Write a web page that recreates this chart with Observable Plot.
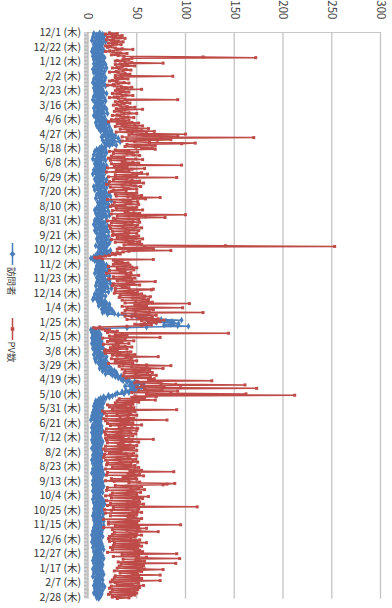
<!DOCTYPE html>
<html><head><meta charset="utf-8">
<script src="https://cdn.jsdelivr.net/npm/d3@7"></script>
<script src="https://cdn.jsdelivr.net/npm/@observablehq/plot@0.6"></script>
<style>
body{margin:0;background:#fff;}
#wrap{position:relative;width:392px;height:608px;overflow:hidden;}
#legend{position:absolute;left:19px;top:243px;transform-origin:0 0;transform:rotate(90deg);display:flex;align-items:center;height:13px;font:9.5px "Noto Sans CJK JP",sans-serif;color:#444;white-space:nowrap;}
#legend svg{display:block}
</style></head><body><div id="wrap"></div>
<script>
// ---- data (daily, starting 2016-12-01) ----
const startDate = "2016-12-01";
const seriesNames = ["訪問者", "PV数"];
const seriesColors = ["#4A7EBB", "#BE4B48"];
const xTickValues = [0, 50, 100, 150, 200, 250, 300];
const yTickLabels = ["12/1","12/22","1/12","2/2","2/23","3/16","4/6","4/27","5/18","6/8","6/29","7/20","8/10","8/31","9/21","10/12","11/2","11/23","12/14","1/4","1/25","2/15","3/8","3/29","4/19","5/10","5/31","6/21","7/12","8/2","8/23","9/13","10/4","10/25","11/15","12/6","12/27","1/17","2/7","2/28"];
const weekdayLabel = "(木)";

const visitors = [
12,6,15,9,17,11,5,14,8,16,10,4,13,18,7,12,15,6,11,9,14,
8,13,5,10,16,7,4,11,14,6,12,9,15,5,10,17,8,13,6,11,14,
16,9,13,6,18,11,7,15,10,19,12,5,14,8,17,11,6,13,16,9,12,
15,8,18,11,6,13,17,9,14,5,10,16,7,12,18,9,13,6,11,15,8,
13,7,16,10,19,8,12,15,6,14,9,17,11,5,13,18,10,7,15,12,9,
14,8,17,11,6,15,19,10,13,7,16,12,20,9,14,6,11,17,8,15,12,
17,10,19,13,8,16,21,12,18,9,15,22,14,11,19,16,24,13,20,17,23,
25,16,28,20,14,26,31,19,24,15,27,33,21,17,25,19,29,22,14,18,12,
16,9,18,12,7,15,19,10,14,6,13,17,9,15,11,5,14,18,8,12,10,
13,7,16,10,19,8,14,17,9,12,6,15,11,18,8,13,5,12,16,9,14,
11,16,7,19,13,8,15,10,18,21,12,9,16,6,14,19,10,13,7,17,12,
18,11,21,14,9,17,23,12,19,8,15,20,13,24,16,10,18,13,21,11,15,
14,20,9,17,12,7,16,21,11,15,8,18,13,22,10,15,19,9,14,11,7,
12,18,9,16,11,6,15,20,13,8,17,10,19,12,7,16,21,14,9,13,17,
15,21,11,18,13,9,19,23,14,10,17,22,12,16,20,8,14,19,11,17,13,
18,23,13,19,10,16,21,12,8,14,6,11,3,5,9,13,7,15,10,12,16,
13,19,9,16,11,21,14,8,17,12,20,10,15,7,13,18,11,22,14,9,16,
17,11,22,14,19,9,16,23,12,18,8,15,20,13,24,11,17,9,15,21,13,
12,7,15,10,18,13,6,14,9,5,12,17,10,15,19,13,22,16,11,18,21,
16,23,14,19,25,17,21,15,27,20,31,38,45,50,57,65,60,75,96,80,86,
70,88,93,85,78,92,103,60,40,12,5,3,8,6,11,4,9,7,13,5,10,
6,11,4,13,8,5,10,14,7,12,4,9,15,6,11,8,13,5,16,10,7,
12,8,17,10,14,6,15,11,19,9,13,7,18,12,16,8,14,20,11,17,13,
19,14,22,16,12,24,18,27,15,21,29,23,18,30,25,34,28,36,31,40,34,
42,36,48,40,52,45,57,43,50,38,55,47,58,44,51,39,48,35,42,30,37,
28,21,25,16,22,13,18,11,15,8,13,10,16,7,12,9,14,6,11,15,8,
11,6,14,8,12,5,10,15,7,9,4,12,8,14,6,10,3,9,13,7,11,
8,12,5,10,14,7,4,9,12,6,11,15,7,4,9,13,6,10,5,12,8,
13,7,10,4,12,15,8,5,11,14,7,10,6,13,9,4,11,8,14,6,10,
9,14,7,12,5,10,15,8,13,6,11,4,9,14,8,12,5,10,13,7,11,
14,8,12,5,10,15,7,13,9,4,11,16,8,12,6,10,14,7,12,9,5,
10,15,7,13,9,5,12,16,8,11,6,14,9,13,5,10,15,7,12,8,11,
6,12,8,14,10,5,13,16,9,11,6,14,17,8,12,7,15,10,13,6,11,
14,9,13,6,11,16,8,12,5,10,15,7,13,9,6,12,16,10,8,13,7,
12,16,9,13,6,11,15,8,12,5,10,14,7,13,9,4,11,15,8,12,6,
5,10,13,7,4,11,14,8,6,12,15,9,5,10,13,16,8,11,6,13,9,
7,12,9,15,10,6,13,16,8,12,5,10,14,9,6,13,15,10,7,12,14,
9,5,11,13,8,15,10,6,14,16,9,12,5,11,14,8,13,15,10,7,11,
12,8,15,10,6,13,17,9,12,7,11,15,8,13,10,6,14,11,8,13,10,
12,9,11
];

const pageviews = [
22,30,18,25,35,28,20,33,38,26,19,24,31,36,27,21,29,34,25,18,23,
20,28,35,46,30,22,18,26,33,40,29,24,31,37,118,172,45,36,42,30,28,
38,45,77,33,28,40,48,35,30,25,32,39,44,36,29,22,31,38,43,34,28,
87,35,28,33,41,30,25,22,29,37,42,31,26,20,27,34,45,38,30,55,32,
28,36,42,33,25,30,39,46,35,27,22,31,38,92,40,33,28,35,43,37,30,
26,33,40,48,35,29,56,38,31,27,34,42,50,37,30,25,33,41,47,36,29,
24,42,38,21,45,52,30,35,48,56,28,38,50,62,33,41,55,68,29,45,60,
100,42,58,92,35,170,75,40,85,71,35,48,63,110,96,40,52,69,38,49,66,
55,69,28,42,22,51,45,26,40,47,53,24,37,33,21,49,56,23,38,35,46,
52,24,38,96,27,40,35,20,58,45,29,33,42,19,55,46,61,28,44,50,21,
91,28,40,26,45,53,22,38,57,44,19,35,48,54,23,37,41,50,26,39,24,
22,50,45,28,47,55,29,41,74,46,59,20,36,43,51,27,39,44,52,25,38,
23,50,46,29,48,56,25,41,38,47,53,24,100,52,30,59,79,26,42,52,28,
20,46,53,24,38,45,51,22,36,49,55,23,39,47,52,25,38,42,50,26,41,
25,52,47,30,49,56,24,39,46,53,28,42,51,55,37,141,253,58,32,67,30,
48,85,42,36,30,25,33,28,22,18,12,7,9,15,67,26,32,28,35,41,30,
26,43,38,21,45,50,30,35,47,22,38,33,44,19,39,44,52,40,26,43,48,
21,37,45,30,69,44,40,26,47,53,25,39,35,42,28,67,65,43,28,46,51,
27,55,50,33,58,64,32,46,57,62,35,49,60,66,38,104,53,48,60,35,56,
97,40,52,67,38,49,63,118,35,48,62,70,38,45,66,52,72,40,78,55,74,
62,70,58,48,65,55,40,12,6,8,15,22,18,30,25,20,144,35,28,40,22,
30,74,15,38,23,27,47,20,35,29,42,16,31,26,38,45,23,28,40,18,30,
17,44,32,18,41,48,25,30,72,39,45,24,29,43,50,28,33,46,21,36,60,
85,32,45,60,77,35,48,63,38,50,66,37,49,61,70,36,52,64,39,68,62,
65,127,50,72,48,75,90,161,55,78,50,95,173,58,76,52,92,61,45,85,162,
60,212,48,70,45,58,32,55,69,30,45,52,28,42,46,20,44,38,22,47,41,
25,91,40,15,48,42,17,30,44,50,19,33,41,47,16,31,81,18,34,42,46,
20,35,55,23,38,32,45,51,19,34,50,42,17,30,44,49,18,33,46,21,36,
18,42,67,19,34,45,52,20,36,31,43,50,18,33,47,41,16,44,50,18,34,
22,47,39,17,45,50,41,16,30,43,49,18,33,46,51,20,35,44,19,48,42,
25,52,40,18,48,55,43,88,20,47,41,53,19,57,40,36,49,24,50,42,18,
27,53,42,89,81,77,28,40,55,20,52,44,58,19,41,47,54,25,39,50,23,
18,62,50,24,56,47,52,19,41,53,48,23,57,49,20,51,112,26,40,52,17,
24,51,46,55,18,42,50,45,23,47,41,49,55,16,40,52,47,21,50,45,21,
95,28,44,52,16,60,51,25,40,53,72,27,43,50,25,55,49,22,48,44,21,
26,53,48,22,50,60,27,44,52,26,55,49,23,51,47,25,53,48,56,20,44,
91,35,48,52,26,60,50,94,36,49,53,58,31,47,90,34,49,57,32,48,55,
30,58,77,52,27,55,49,33,46,51,74,28,44,52,27,55,50,25,74,49,23,
28,52,45,30,57,24,49,53,22,47,51,25,39,48,23,50,46,21,48,44,25,
25,42,30
];

// ---- build ----
const t0 = new Date(startDate + "T00:00:00Z");
const day = (i) => new Date(t0.getTime() + i * 86400000);
const visRows = visitors.map((v, i) => ({date: day(i), value: v, series: seriesNames[0]}));
const pvRows = pageviews.map((v, i) => ({date: day(i), value: v, series: seriesNames[1]}));
const tickRows = yTickLabels.map((lab, i) => ({date: day(21 * i), text: `${lab} ${weekdayLabel}`}));
const minorTicks = d3.range(0, 822, 2).map(day);
const y0 = day(-0.5), y1 = day(822);
const font = '"Noto Sans CJK JP", "Noto Sans", sans-serif';

const chart = Plot.plot({
  width: 392, height: 608,
  marginLeft: 87.5, marginRight: 12, marginTop: 32, marginBottom: 9.3,
  style: {background: "#fff", fontFamily: font},
  x: {domain: [0, 300], axis: null},
  y: {type: "utc", domain: [y0, y1], reverse: true, axis: null},
  marks: [
    Plot.ruleX(xTickValues.filter(d => d > 0), {stroke: "#c4c4c4", strokeWidth: 1.3}),
    Plot.ruleY([y0], {x1: 0, x2: 300, stroke: "#c8c8c8"}),
    Plot.ruleY(minorTicks, {x1: -3.6, x2: 0, stroke: "#a0a0a0", strokeWidth: 0.8}),
    Plot.ruleX([0], {stroke: "#a0a0a0"}),
    Plot.line(visRows, {x: "value", y: "date", stroke: seriesColors[0], strokeWidth: 1.5}),
    Plot.dot(visRows, {x: "value", y: "date", symbol: "diamond", r: 2.1, fill: seriesColors[0], stroke: "none"}),
    Plot.line(pvRows, {x: "value", y: "date", stroke: seriesColors[1], strokeWidth: 1.5}),
    Plot.dot(pvRows, {x: "value", y: "date", symbol: "square", r: 1.7, fill: seriesColors[1], stroke: "none"}),
    Plot.text(tickRows, {x: () => 0, y: "date", text: "text", textAnchor: "end", dx: -7, fontSize: 10.5, fill: "#333"}),
    Plot.text(xTickValues, {x: d => d, y: () => y0, text: d => String(d), rotate: 90, textAnchor: "end", dy: -13, fontSize: 11.5, fill: "#444"})
  ]
});
const wrap = document.getElementById("wrap");
wrap.appendChild(chart);

// legend (rotated like the chart)
function legendItem(color, symbol, name, gap) {
  const shape = symbol === "diamond"
    ? `<path d="M11,3.5 L14,6.5 L11,9.5 L8,6.5 Z" fill="${color}"/>`
    : `<rect x="9.2" y="4.7" width="3.6" height="3.6" fill="${color}"/>`;
  return `<svg width="22" height="13" style="margin-left:${gap}px"><line x1="0" x2="22" y1="6.5" y2="6.5" stroke="${color}" stroke-width="1.5"/>${shape}</svg><span style="margin-left:2px">${name}</span>`;
}
const lg = document.createElement("div");
lg.id = "legend";
lg.innerHTML = legendItem(seriesColors[0], "diamond", seriesNames[0], 0) + legendItem(seriesColors[1], "square", seriesNames[1], 22);
wrap.appendChild(lg);
</script>
</body></html>
